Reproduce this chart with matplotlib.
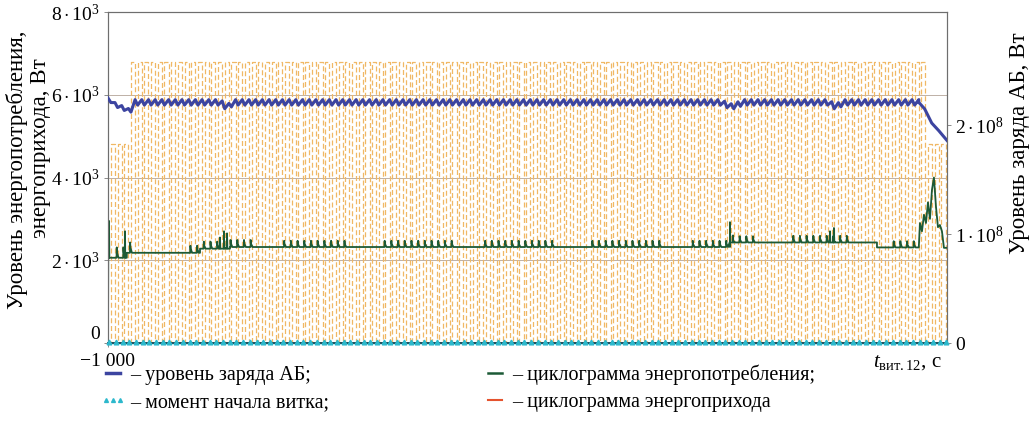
import numpy as np
import matplotlib
matplotlib.use('Agg')
import matplotlib.pyplot as plt
from matplotlib.lines import Line2D

plt.rcParams['font.family'] = ['Liberation Serif', 'DejaVu Serif']
plt.rcParams['mathtext.fontset'] = 'custom'
plt.rcParams['mathtext.rm'] = 'Liberation Serif'
plt.rcParams['mathtext.it'] = 'Liberation Serif:italic'
plt.rcParams['mathtext.bf'] = 'Liberation Serif:bold'

# time axis, s
t_min, t_max = -1000, 713000
orbit_period = 5700.0
n_orbits = 125
sun_start, sun_end = 0.25, 0.87      # part of orbit in sunlight

# energy income blocks (start, end, W)
income_blocks = [(3000, 17700, 4800), (17700, 694000, 6800), (694000, 713000, 4800)]

# battery charge trend (right axis, W)
charge_t = [-1000, 5000, 17700, 22000, 95000, 100000, 106000, 520000, 530000,
            540000, 612000, 618000, 626000, 689000, 694000, 700000, 706000, 713000]
charge_v = [2.25e8, 2.19e8, 2.13e8, 2.21e8, 2.21e8, 2.16e8, 2.21e8, 2.21e8, 2.17e8,
            2.21e8, 2.21e8, 2.17e8, 2.21e8, 2.21e8, 2.15e8, 2.02e8, 1.95e8, 1.86e8]
charge_swing = {4800: 0.035e8, 6800: 0.05e8}

# consumption base levels (start, end, W)
cons_base = [(-800, 15000, 2060), (15000, 77300, 2180), (77300, 102800, 2280),
             (102800, 528300, 2320), (528300, 653400, 2430), (653400, 689000, 2310)]
# windows with communication spikes (start, end, spike height above base)
spike_windows = [(700, 22000, 250), (67000, 122400, 170), (145400, 202400, 150),
                 (233000, 294300, 150), (318100, 377700, 150), (407500, 468800, 150),
                 (492600, 551300, 150), (576800, 633000, 160), (667000, 687500, 150)]
# single bursts (time, W)
burst_t = [-150, 13500, 94300, 97700, 100300, 528300, 530900, 613400, 616800]
burst_v = [2950, 2700, 2550, 2700, 2650, 2920, 2600, 2700, 2780]
# end of the interval
end_t = [689000, 690000, 691700, 693400, 695100, 696800, 698500, 700200, 701900,
         703600, 705300, 707000, 708700, 710400, 713000]
end_v = [2310, 2900, 2700, 3100, 2900, 3400, 3000, 3700, 4000,
         3300, 2800, 2850, 2700, 2300, 2300]


def block_level(t):
    for a, b, lv in income_blocks:
        if a <= t < b:
            return lv
    return 0


def base_level(t):
    for a, b, lv in cons_base:
        if a <= t < b:
            return lv
    return None


orbit_t = np.arange(n_orbits + 1) * orbit_period

# income square wave
inc_x, inc_y = [t_min, 0], [0, 0]
for k in range(n_orbits + 1):
    a = orbit_t[k] + sun_start * orbit_period
    b = orbit_t[k] + sun_end * orbit_period
    lv = block_level((a + b) / 2)
    if lv == 0 or a > t_max:
        continue
    b = min(b, t_max)
    inc_x += [a, a, b, b]
    inc_y += [0, lv, lv, 0]

# charge zigzag
ch_x, ch_y = [charge_t[0]], [charge_v[0]]
for k in range(n_orbits + 1):
    a = orbit_t[k] + sun_start * orbit_period
    b = orbit_t[k] + sun_end * orbit_period
    lv = block_level((a + b) / 2)
    if lv == 0 or b > 690000:
        continue
    s = charge_swing[lv]
    ch_x += [a, b]
    ch_y += [np.interp(a, charge_t, charge_v) - s / 2, np.interp(b, charge_t, charge_v) + s / 2]
ch_x += charge_t[-5:]
ch_y += charge_v[-5:]

# consumption
pts = [(t_min, 0.0), (-800, 2000.0)]
for a, b, lv in cons_base:
    pts += [(a, lv), (b, lv)]
for k in range(n_orbits + 1):
    ts = orbit_t[k] + 0.1 * orbit_period
    for a, b, h in spike_windows:
        if a <= ts < b:
            bl = base_level(ts)
            pts += [(ts, bl), (ts + 0.03 * orbit_period, bl + h),
                    (ts + 0.07 * orbit_period, bl + 0.5 * h),
                    (ts + 0.25 * orbit_period, bl + 0.1 * h), (ts + 0.3 * orbit_period, bl)]
for t, v in zip(burst_t, burst_v):
    bl = base_level(t) or 2060
    pts += [(t - 300, bl), (t, v), (t + 300, bl)]
pts += list(zip(end_t[1:], end_v[1:]))
pts.sort(key=lambda p: p[0])
cons_x = [p[0] for p in pts]
cons_y = [p[1] for p in pts]

fig = plt.figure(figsize=(10.34, 4.32), dpi=100)
ax = fig.add_axes([108 / 1034, 1 - 343 / 432, 839 / 1034, 331 / 432])
ax2 = ax.twinx()

for yv in [2000, 4000, 6000]:
    ax.axhline(yv, color='#BDB0A6', lw=0.7, zorder=0.5)

ax.plot(inc_x, inc_y, color='#F0B865', lw=0.9, ls=(0, (4, 2.2)), zorder=1)
ax.plot(cons_x, cons_y, color='#1C5A36', lw=1.3, zorder=3)
ax2.plot(ch_x, ch_y, color='#3C44A0', lw=2.2, zorder=4)
ax2.plot(orbit_t, np.full(len(orbit_t), 0.01e8), ls='none', marker='^', ms=3.4,
         color='#2CB8CC', clip_on=False, zorder=5)

ax.set_xlim(t_min, t_max)
ax.set_ylim(0, 8000)
ax2.set_ylim(0, 3.04e8)

ax.set_xticks([-1000])
ax.set_xticklabels(['−1 000'])
ax.set_yticks([0, 2000, 4000, 6000, 8000])
ax.set_yticklabels(['0', r'$2\cdot10^3$', r'$4\cdot10^3$', r'$6\cdot10^3$', r'$8\cdot10^3$'])
ax.get_yticklabels()[0].set_va('bottom')
ax2.set_yticks([0, 1e8, 2e8])
ax2.set_yticklabels(['0', r'$1\cdot10^8$', r'$2\cdot10^8$'])
for a in (ax, ax2):
    a.tick_params(labelsize=14, length=3, width=0.6, color='#777777', pad=3)
    for side in ['top', 'right', 'left']:
        a.spines[side].set_color('#6E6E6E')
        a.spines[side].set_linewidth(0.8)
    a.spines['bottom'].set_color('#24505C')
    a.spines['bottom'].set_linewidth(1.3)
ax.tick_params(axis='x', pad=4)

ax.text(0.912, -0.03, r'$t_{\mathregular{вит.12}}$, с', transform=ax.transAxes,
        fontsize=15, ha='left', va='top')

fig.text(17 / 1034, 1 - 170 / 432, 'Уровень энергопотребления,', rotation=90,
         fontsize=16.5, ha='center', va='center')
fig.text(41 / 1034, 1 - 148 / 432, 'энергоприхода, Вт', rotation=90,
         fontsize=16.5, ha='center', va='center')
fig.text(1019 / 1034, 1 - 143 / 432, 'Уровень заряда АБ, Вт', rotation=90,
         fontsize=16.5, ha='center', va='center')

handles = [Line2D([], [], color='#3C44A0', lw=2.5),
           Line2D([], [], ls='none', marker='^', ms=2.8, color='#2CB8CC'),
           Line2D([], [], color='#1C5A36', lw=1.8),
           Line2D([], [], color='#E5532E', lw=1.5)]
labels = ['– уровень заряда АБ;', '– момент начала витка;',
          '– циклограмма энергопотребления;', '– циклограмма энергоприхода']
fig.legend(handles, labels, ncol=2, loc='upper left', bbox_to_anchor=(92 / 1034, 1 - 356 / 432),
           frameon=False, fontsize=14.5, handlelength=1.3, handletextpad=0.2, numpoints=3,
           columnspacing=7.6, labelspacing=0.4, borderaxespad=0)

fig.savefig('out.png', dpi=100)
